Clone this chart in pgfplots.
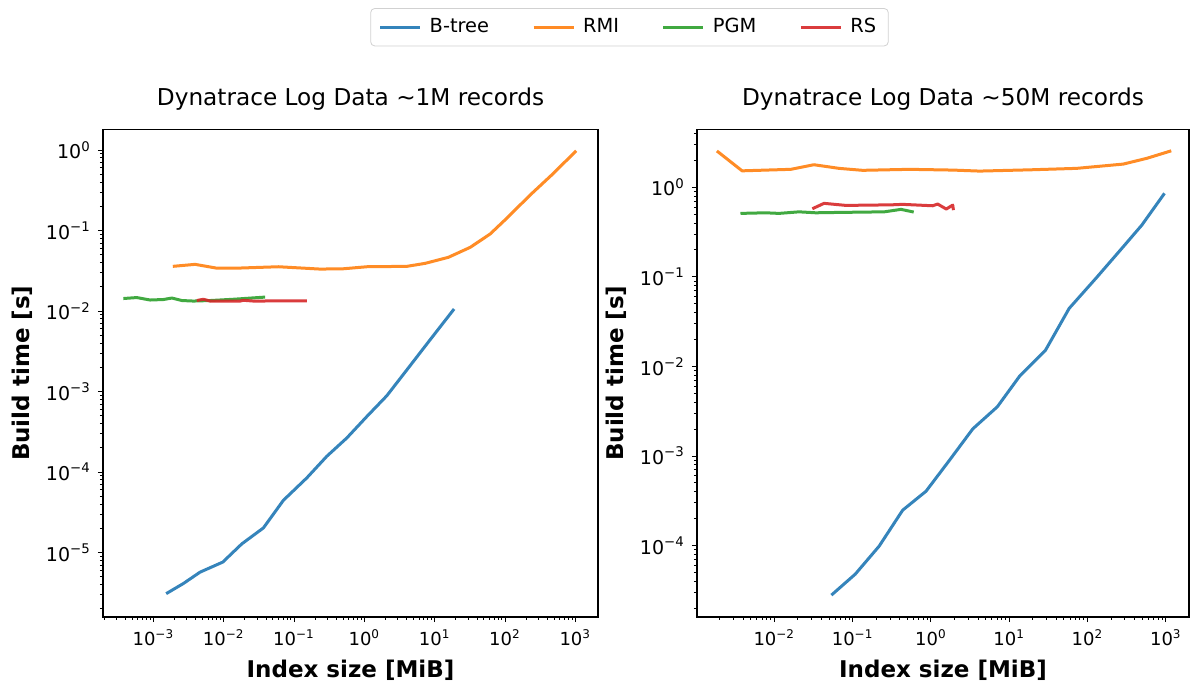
\documentclass[border=0pt]{standalone}
\usepackage{fontspec}
\setmainfont{DejaVu Sans}
\usepackage{pgfplots}
\pgfplotsset{compat=1.18}

\definecolor{cbtree}{HTML}{1F77B4}
\definecolor{crmi}{HTML}{FF7F0E}
\definecolor{cpgm}{HTML}{2CA02C}
\definecolor{crs}{HTML}{D62728}

% 10^e tick labels in the text font, with a real minus sign
\newcommand{\logtick}[1]{\pgfmathtruncatemacro{\ex}{round(#1/ln(10))}\pgfmathtruncatemacro{\ax}{abs(\ex)}10\textsuperscript{\ifnum\ex<0 \symbol{"2212}\fi\ax}}

\pgfplotsset{
  every axis/.append style={
    scale only axis, height=243.75pt,
    tick align=outside, tick pos=left,
    major tick length=2.6pt, minor tick length=1.5pt,
    axis line style={line width=0.6pt},
    xticklabel={\logtick{\tick}}, yticklabel={\logtick{\tick}},
    x tick label style={font=\fontsize{9}{10}\selectfont},
    y tick label style={font=\fontsize{9.5}{10}\selectfont},
    title style={font=\fontsize{11.6}{13}\selectfont},
    xlabel style={font=\bfseries\fontsize{11.5}{13}\selectfont},
    ylabel style={font=\bfseries\fontsize{11.5}{13}\selectfont},
    xlabel={Index size [MiB]}, ylabel={Build time [s]},
  },
  every tick/.append style={black, line width=0.45pt},
  every axis plot/.append style={line width=1.5pt, no marks, opacity=0.9, line join=round},
}

\begin{document}
\begin{tikzpicture}
\begin{loglogaxis}[width=247.5pt,
  xmin=1.92e-4, xmax=2104, ymin=1.58e-6, ymax=1.80,
  title={Dynatrace Log Data \textasciitilde 1M records},
  legend columns=4,
  legend style={at={(1.0636,1.249)}, anchor=north, draw=black!18, rounded corners=2pt,
    font=\fontsize{9.7}{11}\selectfont, inner xsep=4pt, inner ysep=3pt,
    /tikz/every even column/.append style={column sep=19.5pt},
    /tikz/every odd column/.append style={column sep=2pt}},
  legend image code/.code={\draw[#1] (0pt,0pt) -- (20pt,0pt);},
]
\addplot[cbtree] coordinates {(1.52e-3,3.08e-6)(2.67e-3,4.12e-6)(4.61e-3,5.7e-6)(9.7e-3,7.6e-6)(1.81e-2,1.28e-5)(3.67e-2,2.02e-5)(7.06e-2,4.45e-5)(0.152,8.45e-5)(0.293,1.57e-4)(0.564,2.65e-4)(1.09,4.91e-4)(2.09,8.87e-4)(4.03,1.86e-3)(8.63,4.40e-3)(18.9,1.06e-2)};
\addlegendentry{B-tree}
\addplot[crmi] coordinates {(1.89e-3,3.59e-2)(3.92e-3,3.80e-2)(7.8e-3,3.42e-2)(1.71e-2,3.42e-2)(6.0e-2,3.55e-2)(0.235,3.32e-2)(0.505,3.35e-2)(1.09,3.55e-2)(4.03,3.59e-2)(7.33,3.91e-2)(15.7,4.65e-2)(32,6.18e-2)(61.5,9.05e-2)(106,0.142)(228,0.276)(490,0.514)(1030,0.98)};
\addlegendentry{RMI}
\addplot[cpgm] coordinates {(3.74e-4,1.43e-2)(5.81e-4,1.47e-2)(8.98e-4,1.37e-2)(1.39e-3,1.39e-2)(1.83e-3,1.45e-2)(2.54e-3,1.35e-2)(3.71e-3,1.33e-2)(6.41e-3,1.35e-2)(1.37e-2,1.40e-2)(3.88e-2,1.49e-2)};
\addlegendentry{PGM}
\addplot[crs] coordinates {(4.14e-3,1.35e-2)(5.14e-3,1.40e-2)(6.41e-3,1.33e-2)(1.71e-2,1.33e-2)(1.90e-2,1.36e-2)(2.64e-2,1.33e-2)(0.152,1.34e-2)};
\addlegendentry{RS}
\end{loglogaxis}

\begin{loglogaxis}[width=246pt, at={(297pt,0pt)},
  xmin=1.03e-3, xmax=1977, ymin=1.59e-5, ymax=4.43,
  title={Dynatrace Log Data \textasciitilde 50M records},
]
\addplot[cbtree] coordinates {(5.36e-2,2.79e-5)(0.108,4.78e-5)(0.218,9.82e-5)(0.436,2.48e-4)(0.867,4.04e-4)(1.73,8.98e-4)(3.43,2.01e-3)(7.05,3.54e-3)(13.6,7.80e-3)(29.1,1.52e-2)(58.3,4.45e-2)(131,9.87e-2)(274,0.208)(494,0.379)(961,0.857)};
\addplot[crmi] coordinates {(1.85e-3,2.55)(3.88e-3,1.53)(1.62e-2,1.59)(3.21e-2,1.79)(6.73e-2,1.63)(0.134,1.55)(0.531,1.59)(1.90,1.56)(4.18,1.52)(18.3,1.57)(72.5,1.63)(286,1.82)(571,2.11)(1172,2.56)};
\addplot[cpgm] coordinates {(3.70e-3,0.512)(7.74e-3,0.520)(1.15e-2,0.512)(2.07e-2,0.533)(3.38e-2,0.520)(6.73e-2,0.525)(0.254,0.533)(0.415,0.568)(0.603,0.530)};
\addplot[crs] coordinates {(3.06e-2,0.577)(4.32e-2,0.663)(8.2e-2,0.629)(0.180,0.634)(0.325,0.639)(0.436,0.646)(1.055,0.623)(1.22,0.651)(1.57,0.573)(1.90,0.634)(1.94,0.557)};
\end{loglogaxis}

\pgfresetboundingbox
\path[use as bounding box] (-51.5pt,-33.5pt) rectangle (546.5pt,308.5pt);
\end{tikzpicture}
\end{document}
